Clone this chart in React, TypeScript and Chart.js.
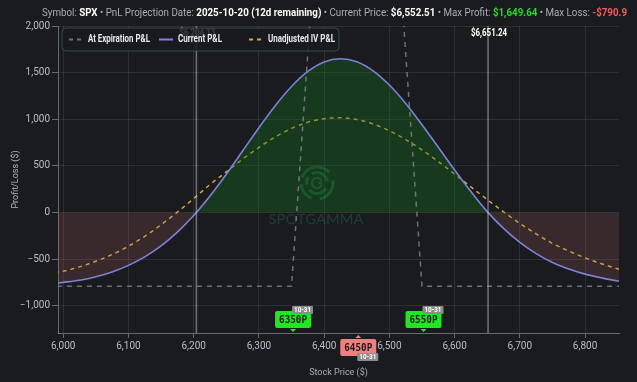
import React, { useEffect, useRef } from 'react';
import { Chart, registerables } from 'chart.js';

Chart.register(...registerables);

const BG = '#1a1b1f';

// ---- Data ----
const priceGrid = [
  5975, 6000, 6025, 6050, 6075, 6100, 6125, 6150, 6175, 6200, 6225, 6250, 6275,
  6300, 6325, 6350, 6375, 6400, 6425, 6450, 6475, 6500, 6525, 6550, 6575, 6600,
  6625, 6650, 6675, 6700, 6725, 6750, 6775, 6800, 6825, 6850, 6875,
];
const currentPnl = [
  -768, -748, -725, -688, -637, -566, -475, -358, -210, -32, 177, 411, 660,
  910, 1146, 1352, 1513, 1615, 1649.64, 1617, 1520, 1367, 1170, 942, 700, 457,
  225, 10, -170, -320, -440, -535, -605, -660, -700, -733, -755,
];
const unadjustedIvPnl = [
  -660, -628, -582, -522, -450, -360, -255, -130, 5, 150, 300, 436, 573,
  699, 811, 902, 969, 1007, 1016, 997, 950, 877, 783, 671, 546, 412,
  275, 139, 8, -116, -229, -331, -412, -485, -548, -603, -645,
];
const expirationPrices = [5975, 6350, 6450, 6550, 6875];
const expirationPnl = [-790.9, -790.9, 9209.1, -790.9, -790.9];
const breakevenPrices = [6204.13, 6651.24];
const breakevenLabels = ['$6,204.13', '$6,651.24'];
const strikeLabels = ['6350P', '6450P', '6550P'];
const strikePrices = [6350, 6450, 6550];
const strikeSides = ['long', 'short', 'long'];
const strikeExpiries = ['10-31', '10-31', '10-31'];
const legendLabels = ['At Expiration P&L', 'Current P&L', 'Unadjusted IV P&L'];
const yTickValues = [-1000, -500, 0, 500, 1000, 1500, 2000];
const xTickValues = [6000, 6100, 6200, 6300, 6400, 6500, 6600, 6700, 6800];
const titleTexts = [
  'Symbol: ', 'SPX', ' • PnL Projection Date: ', '2025-10-20 (12d remaining)',
  ' • Current Price: ', '$6,552.51', ' • Max Profit: ', '$1,649.64', ' • Max Loss: ', '-$790.9',
];
const titleKinds = ['label', 'value', 'label', 'value', 'label', 'value', 'label', 'profit', 'label', 'loss'];
const xMin = 5992;
const xMax = 6852;
const yMin = -1290.9;
const yMax = 2000;

const COLORS = {
  current: '#7f80d8',
  unadjusted: '#d4a843',
  expiration: 'rgba(140,140,145,0.75)',
  tick: '#b8bec8',
  grid: 'rgba(255,255,255,0.09)',
  axis: 'rgba(255,255,255,0.35)',
};

function drawFitted(ctx: CanvasRenderingContext2D, text: string, x: number, y: number, width: number, align: 'left' | 'center') {
  const w = ctx.measureText(text).width;
  const k = Math.min(1.15, width / w);
  ctx.save();
  ctx.translate(x, y);
  ctx.scale(k, 1);
  ctx.textAlign = align;
  ctx.fillText(text, 0, 0);
  ctx.restore();
}

function roundRect(ctx: CanvasRenderingContext2D, x: number, y: number, w: number, h: number, r: number) {
  ctx.beginPath();
  ctx.moveTo(x + r, y);
  ctx.lineTo(x + w - r, y);
  ctx.quadraticCurveTo(x + w, y, x + w, y + r);
  ctx.lineTo(x + w, y + h - r);
  ctx.quadraticCurveTo(x + w, y + h, x + w - r, y + h);
  ctx.lineTo(x + r, y + h);
  ctx.quadraticCurveTo(x, y + h, x, y + h - r);
  ctx.lineTo(x, y + r);
  ctx.quadraticCurveTo(x, y, x + r, y);
  ctx.closePath();
}

const decorPlugin = {
  id: 'decor',
  beforeDraw(chart: any) {
    const ctx = chart.ctx;
    ctx.save();
    ctx.fillStyle = BG;
    ctx.fillRect(0, 0, chart.width, chart.height);
    ctx.restore();
  },
  beforeDatasetsDraw(chart: any) {
    // watermark
    const ctx = chart.ctx as CanvasRenderingContext2D;
    const cx = 317, cy = 183;
    ctx.save();
    ctx.strokeStyle = 'rgba(40,170,110,0.33)';
    ctx.lineCap = 'butt';
    const d = Math.PI / 180;
    ctx.lineWidth = 3;
    const rings: [number, number, number][] = [
      [16, -160, -40], [16, -10, 80], [16, 110, 175],
      [10.5, -120, -10], [10.5, 30, 140], [10.5, 170, 215],
    ];
    rings.forEach(([r, a, b]) => {
      ctx.beginPath();
      ctx.arc(cx, cy, r, a * d, b * d);
      ctx.stroke();
    });
    ctx.lineWidth = 2.5;
    ctx.beginPath();
    ctx.arc(cx, cy, 5, 20 * d, 340 * d);
    ctx.stroke();
    ctx.beginPath();
    ctx.moveTo(cx + 1, cy);
    ctx.lineTo(cx + 5, cy);
    ctx.stroke();
    ctx.fillStyle = 'rgba(40,150,130,0.28)';
    ctx.font = '14px Lato, Roboto, sans-serif';
    ctx.textBaseline = 'alphabetic';
    drawFitted(ctx, 'SPOTGAMMA', 316, 224, 95, 'center');
    ctx.restore();
  },
  afterDatasetsDraw(chart: any) {
    const ctx = chart.ctx as CanvasRenderingContext2D;
    const { top, bottom } = chart.chartArea;
    const xs = chart.scales.x;
    ctx.save();
    breakevenPrices.forEach((p, i) => {
      const x = xs.getPixelForValue(p);
      ctx.strokeStyle = 'rgba(200,200,205,0.5)';
      ctx.lineWidth = 1.5;
      ctx.beginPath();
      ctx.moveTo(x, top);
      ctx.lineTo(x, bottom);
      ctx.stroke();
      ctx.fillStyle = '#ffffff';
      ctx.font = 'bold 10px Roboto, sans-serif';
      ctx.textBaseline = 'middle';
      drawFitted(ctx, breakevenLabels[i], x + 1, 33, 36, 'center');
    });
    ctx.restore();
  },
  afterDraw(chart: any) {
    const ctx = chart.ctx as CanvasRenderingContext2D;
    const xs = chart.scales.x;
    ctx.save();
    // strike markers
    strikePrices.forEach((p, i) => {
      const cx = xs.getPixelForValue(p) + 1.5;
      const long = strikeSides[i] === 'long';
      const boxY = long ? 311 : 339;
      const color = long ? '#22e622' : '#f08080';
      ctx.fillStyle = color;
      roundRect(ctx, cx - 18, boxY, 36, 17, 2);
      ctx.fill();
      ctx.beginPath();
      if (long) {
        ctx.moveTo(cx - 3, boxY + 18);
        ctx.lineTo(cx + 3, boxY + 18);
        ctx.lineTo(cx, boxY + 21);
      } else {
        ctx.moveTo(cx - 3, boxY - 1);
        ctx.lineTo(cx + 3, boxY - 1);
        ctx.lineTo(cx, boxY - 4);
      }
      ctx.closePath();
      ctx.fill();
      ctx.fillStyle = '#1a1a1a';
      ctx.font = 'bold 10px "DejaVu Sans Mono", monospace';
      ctx.textBaseline = 'middle';
      drawFitted(ctx, strikeLabels[i], cx, boxY + 9, 28, 'center');
      // expiry tag
      const tx = cx - 1;
      const ty = long ? boxY - 5 : boxY + 14;
      ctx.fillStyle = '#8c8c8c';
      roundRect(ctx, tx, ty, 21, 8, 1);
      ctx.fill();
      ctx.fillStyle = '#ffffff';
      ctx.font = 'bold 7px Roboto, sans-serif';
      drawFitted(ctx, strikeExpiries[i], tx + 10.5, ty + 4.3, 17, 'center');
    });

    // legend
    ctx.fillStyle = 'rgba(26,27,31,0.86)';
    roundRect(ctx, 62, 28, 277, 23, 4);
    ctx.fill();
    ctx.strokeStyle = 'rgba(60,95,88,0.7)';
    ctx.lineWidth = 1;
    ctx.stroke();
    const swatchX = [69, 159, 249];
    const swatchW = [12, 14, 12];
    const textX = [88, 178, 268];
    const textW = [62, 44, 67];
    const sColors = [COLORS.expiration, COLORS.current, COLORS.unadjusted];
    const sDash = [[4, 4], [], [4, 4]];
    const ly = 39.5;
    for (let i = 0; i < 3; i++) {
      ctx.strokeStyle = sColors[i];
      ctx.lineWidth = 2;
      ctx.setLineDash(sDash[i]);
      ctx.beginPath();
      ctx.moveTo(swatchX[i], ly);
      ctx.lineTo(swatchX[i] + swatchW[i], ly);
      ctx.stroke();
      ctx.setLineDash([]);
      ctx.fillStyle = '#e8eaee';
      ctx.font = 'bold 10px Roboto, sans-serif';
      ctx.textBaseline = 'middle';
      drawFitted(ctx, legendLabels[i], textX[i], ly, textW[i], 'left');
    }

    // title
    ctx.textBaseline = 'alphabetic';
    const fontFor = (k: string) => (k === 'label' ? '10px Roboto, sans-serif' : 'bold 10px Roboto, sans-serif');
    const colorFor = (k: string) =>
      k === 'label' ? '#a9aeb8' : k === 'value' ? '#ffffff' : k === 'profit' ? '#22dd22' : '#f25c5c';
    let total = 0;
    const widths: number[] = [];
    titleTexts.forEach((t, i) => {
      ctx.font = fontFor(titleKinds[i]);
      const w = ctx.measureText(t).width;
      widths.push(w);
      total += w;
    });
    const k = 585 / total;
    ctx.translate(42, 15.5);
    ctx.scale(k, 1);
    let x = 0;
    titleTexts.forEach((t, i) => {
      ctx.font = fontFor(titleKinds[i]);
      ctx.fillStyle = colorFor(titleKinds[i]);
      ctx.textAlign = 'left';
      ctx.fillText(t, x, 0);
      x += widths[i];
    });
    ctx.restore();
  },
};

const fmt = (v: number) => {
  const s = Math.abs(v).toLocaleString('en-US');
  return v < 0 ? '\u2212' + s : s;
};

export default function App() {
  const ref = useRef<HTMLCanvasElement | null>(null);
  useEffect(() => {
    document.body.style.margin = '0';
    document.body.style.background = BG;
    Chart.defaults.font.family = 'Roboto, "Noto Sans", sans-serif';
    const canvas = ref.current!;
    const chart = new Chart(canvas, {
      type: 'line',
      data: {
        datasets: [
          {
            label: legendLabels[0],
            data: expirationPrices.map((x, i) => ({ x, y: expirationPnl[i] })),
            borderColor: COLORS.expiration,
            borderWidth: 1.5,
            borderDash: [5, 5],
            pointRadius: 0,
            tension: 0,
            fill: false,
          },
          {
            label: legendLabels[1],
            data: priceGrid.map((x, i) => ({ x, y: currentPnl[i] })),
            borderColor: COLORS.current,
            borderWidth: 1.6,
            pointRadius: 0,
            cubicInterpolationMode: 'monotone',
            fill: { target: 'origin', above: 'rgba(20,110,30,0.36)', below: 'rgba(180,100,100,0.2)' },
          },
          {
            label: legendLabels[2],
            data: priceGrid.map((x, i) => ({ x, y: unadjustedIvPnl[i] })),
            borderColor: COLORS.unadjusted,
            borderWidth: 1.5,
            borderDash: [4, 4],
            pointRadius: 0,
            cubicInterpolationMode: 'monotone',
            fill: false,
          },
        ],
      },
      options: {
        responsive: false,
        animation: false,
        devicePixelRatio: 1,
        layout: { padding: { top: 26, right: 18, left: 0, bottom: 0 } },
        plugins: { legend: { display: false }, tooltip: { enabled: false }, title: { display: false } },
        scales: {
          x: {
            type: 'linear',
            min: xMin,
            max: xMax,
            afterBuildTicks: (s: any) => { s.ticks = xTickValues.map((value) => ({ value })); },
            ticks: {
              color: COLORS.tick,
              font: { size: 10 },
              padding: 2,
              maxRotation: 0,
              autoSkip: false,
              callback: (v: any) => fmt(Number(v)),
            },
            grid: { color: COLORS.grid, tickLength: 5, tickColor: COLORS.axis },
            border: { color: COLORS.axis },
            title: { display: true, text: 'Stock Price ($)', color: '#aab0ba', font: { size: 9 }, padding: { top: 4, bottom: 4 } },
            afterFit: (s: any) => { s.height = 49; },
          },
          y: {
            min: yMin,
            max: yMax,
            afterBuildTicks: (s: any) => { s.ticks = yTickValues.map((value) => ({ value })); },
            ticks: {
              color: COLORS.tick,
              font: { size: 10 },
              padding: 2,
              autoSkip: false,
              callback: (v: any) => fmt(Number(v)),
            },
            grid: { color: COLORS.grid, tickLength: 6, tickColor: COLORS.axis },
            border: { color: COLORS.axis },
            title: { display: true, text: 'Profit/Loss ($)', color: '#aab0ba', font: { size: 9 }, padding: { top: 10, bottom: 4 } },
            afterFit: (s: any) => { s.width = 58; },
          },
        },
      },
      plugins: [decorPlugin],
    } as any);
    return () => chart.destroy();
  }, []);
  return (
    <div style={{ width: 637, height: 382, background: BG }}>
      <canvas ref={ref} width={637} height={382} style={{ display: 'block' }} />
    </div>
  );
}
